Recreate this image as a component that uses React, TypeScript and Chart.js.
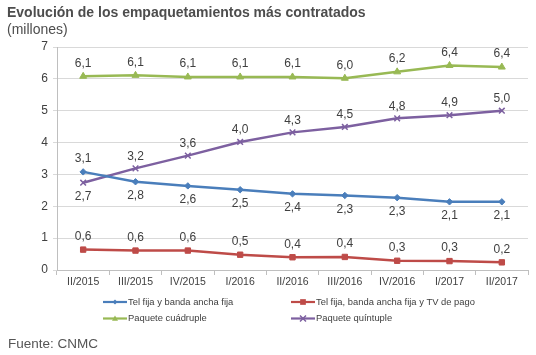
import React, { useEffect, useRef } from "react";
import { Chart, registerables } from "chart.js";

Chart.register(...registerables);

const categories = ["II/2015", "III/2015", "IV/2015", "I/2016", "II/2016", "III/2016", "IV/2016", "I/2017", "II/2017"];
const telBanda = [3.08, 2.77, 2.64, 2.52, 2.39, 2.34, 2.27, 2.14, 2.14];
const telBandaTv = [0.64, 0.61, 0.61, 0.48, 0.4, 0.41, 0.29, 0.28, 0.24];
const cuadruple = [6.08, 6.11, 6.06, 6.06, 6.06, 6.02, 6.22, 6.42, 6.37];
const quintuple = [2.74, 3.19, 3.59, 4.02, 4.32, 4.49, 4.76, 4.86, 5.0];
const seriesNames = [
  "Tel fija y banda ancha fija",
  "Tel fija, banda ancha fija y TV de pago",
  "Paquete cuádruple",
  "Paquete quíntuple",
];
const yTicks = [0, 1, 2, 3, 4, 5, 6, 7];
const titleText = "Evolución de los empaquetamientos más contratados";
const subtitleText = "(millones)";
const sourceText = "Fuente: CNMC";

const FONT = "'Liberation Sans', Arial, Helvetica, sans-serif";
const COLORS = ["#4a7ebb", "#be4b48", "#98b954", "#7d60a0"];
const STYLES = ["rectRot", "rect", "triangle", "crossRot"];
const RADII = [3.2, 3.8, 4, 4];

function fmt(v: number) {
  return v.toFixed(1).replace(".", ",");
}

function drawMarker(ctx: CanvasRenderingContext2D, style: string, x: number, y: number, r: number, color: string) {
  ctx.save();
  ctx.fillStyle = color;
  ctx.strokeStyle = color;
  ctx.lineWidth = 1.5;
  ctx.beginPath();
  if (style === "rectRot") {
    ctx.moveTo(x, y - r);
    ctx.lineTo(x + r, y);
    ctx.lineTo(x, y + r);
    ctx.lineTo(x - r, y);
    ctx.closePath();
    ctx.fill();
  } else if (style === "rect") {
    ctx.rect(x - r, y - r, 2 * r, 2 * r);
    ctx.fill();
  } else if (style === "triangle") {
    ctx.moveTo(x, y - r);
    ctx.lineTo(x + r, y + r * 0.75);
    ctx.lineTo(x - r, y + r * 0.75);
    ctx.closePath();
    ctx.fill();
  } else {
    ctx.moveTo(x - r, y - r);
    ctx.lineTo(x + r, y + r);
    ctx.moveTo(x + r, y - r);
    ctx.lineTo(x - r, y + r);
    ctx.stroke();
  }
  ctx.restore();
}

const decorPlugin = {
  id: "decor",
  afterDatasetsDraw(chart: any) {
    const ctx: CanvasRenderingContext2D = chart.ctx;
    ctx.save();
    ctx.font = `12px ${FONT}`;
    ctx.fillStyle = "#404040";
    ctx.textAlign = "center";
    ctx.textBaseline = "middle";
    chart.data.datasets.forEach((ds: any, di: number) => {
      const meta = chart.getDatasetMeta(di);
      meta.data.forEach((pt: any, i: number) => {
        let dy = -13;
        if (di === 0) dy = i === 0 ? -13 : 14;
        if (di === 3) dy = i === 0 ? 14 : -12;
        ctx.fillText(fmt(ds.data[i]), pt.x, pt.y + dy);
      });
    });
    ctx.restore();
  },
  afterDraw(chart: any) {
    const ctx: CanvasRenderingContext2D = chart.ctx;
    ctx.save();
    ctx.textAlign = "left";
    ctx.textBaseline = "middle";
    ctx.fillStyle = "#4d4d4d";
    ctx.font = `bold 14px ${FONT}`;
    ctx.fillText(titleText, 7, 13);
    ctx.font = `14px ${FONT}`;
    ctx.fillText(subtitleText, 7, 30);
    ctx.fillStyle = "#555555";
    ctx.font = `13.5px ${FONT}`;
    ctx.fillText(sourceText, 8, 344);

    const cols = [103, 291];
    const rows = [302, 318.5];
    ctx.font = `9.4px ${FONT}`;
    seriesNames.forEach((name, i) => {
      const x = cols[i % 2];
      const y = rows[Math.floor(i / 2)];
      ctx.strokeStyle = COLORS[i];
      ctx.lineWidth = 2.2;
      ctx.beginPath();
      ctx.moveTo(x, y);
      ctx.lineTo(x + 24, y);
      ctx.stroke();
      drawMarker(ctx, STYLES[i], x + 12, y, RADII[i] * 0.75, COLORS[i]);
      ctx.fillStyle = "#404040";
      ctx.fillText(name, x + 25, y);
    });
    ctx.restore();
  },
};

export default function App() {
  const ref = useRef<HTMLCanvasElement | null>(null);
  useEffect(() => {
    if (!ref.current) return;
    const data = [telBanda, telBandaTv, cuadruple, quintuple];
    const chart = new Chart(ref.current, {
      type: "line",
      data: {
        labels: categories,
        datasets: data.map((d, i) => ({
          label: seriesNames[i],
          data: d,
          borderColor: COLORS[i],
          backgroundColor: COLORS[i],
          borderWidth: 2.5,
          pointStyle: STYLES[i] as any,
          pointRadius: RADII[i],
          pointBorderWidth: i === 3 ? 1.5 : 1,
          pointBackgroundColor: COLORS[i],
          pointBorderColor: COLORS[i],
          tension: 0,
        })),
      },
      options: {
        responsive: false,
        animation: false,
        devicePixelRatio: 1,
        layout: { padding: { top: 47, left: 0, right: 8, bottom: 55 } },
        plugins: {
          legend: { display: false },
          title: { display: false },
          tooltip: { enabled: false },
        },
        scales: {
          x: {
            type: "category",
            offset: true,
            grid: {
              offset: true,
              drawOnChartArea: false,
              drawTicks: true,
              tickLength: 5,
              color: "#bfbfbf",
            },
            border: { display: true, color: "#bfbfbf" },
            ticks: {
              font: { family: FONT, size: 10.5 },
              color: "#404040",
              padding: 1,
              maxRotation: 0,
              autoSkip: false,
            },
            afterFit(scale: any) {
              scale.height = 30;
            },
          },
          y: {
            min: 0,
            max: 7,
            afterBuildTicks(scale: any) {
              scale.ticks = yTicks.map((v) => ({ value: v }));
            },
            grid: { color: "#d9d9d9", tickLength: 4, drawTicks: true },
            border: { display: true, color: "#bfbfbf" },
            ticks: {
              font: { family: FONT, size: 12 },
              color: "#404040",
              padding: 5,
            },
            afterFit(scale: any) {
              scale.width = 57;
            },
          },
        },
      },
      plugins: [decorPlugin],
    });
    return () => chart.destroy();
  }, []);
  return (
    <div style={{ position: "absolute", left: 0, top: 0, width: 536, height: 355, background: "#fff" }}>
      <canvas ref={ref} width={536} height={355} style={{ width: 536, height: 355, display: "block" }} />
    </div>
  );
}
